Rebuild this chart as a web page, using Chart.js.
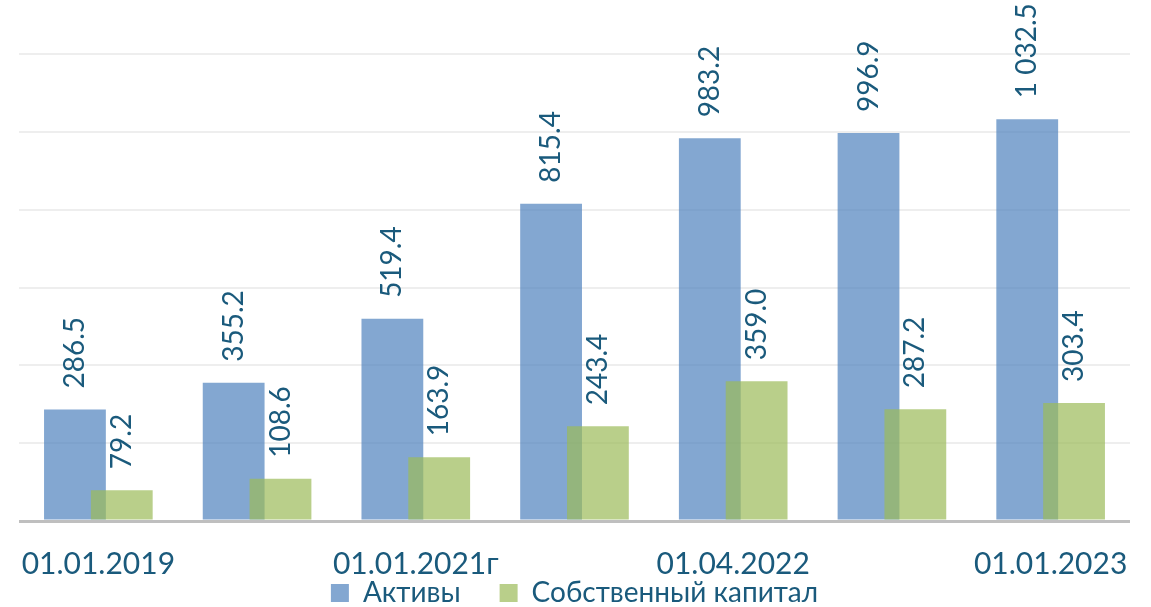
<!DOCTYPE html>
<html>
<head>
<meta charset="utf-8">
<script src="https://cdn.jsdelivr.net/npm/chart.js@4/dist/chart.umd.min.js"></script>
<style>
  html, body { margin: 0; padding: 0; background: #fff; }
  #wrap { width: 1151px; height: 607px; position: relative; }
</style>
</head>
<body>
<div id="wrap"><canvas id="chart"></canvas></div>
<script>
const categories = ["01.01.2019", "01.01.2020", "01.01.2021г", "01.01.2022", "01.04.2022", "01.07.2022", "01.01.2023"];
const assets = [286.5, 355.2, 519.4, 815.4, 983.2, 996.9, 1032.5];
const equity = [79.2, 108.6, 163.9, 243.4, 359.0, 287.2, 303.4];
const seriesNames = ["Активы", "Собственный капитал"];

const TEXT = "#1a5a7c";
const FONT = "Lato, 'Open Sans', sans-serif";

// 1 032.5 style
const fmt = (v) => {
  const [i, d] = v.toFixed(1).split(".");
  return i.replace(/\B(?=(\d{3})+(?!\d))/g, " ") + "." + d;
};

// chart.js paints dataset 0 last; we want the green bars on top of the blue ones
const paintOrder = {
  id: "paintOrder",
  beforeDatasetsDraw(chart) {
    const meta = chart.getDatasetMeta(0);
    if (meta && !meta.hidden) meta.controller.draw();
  },
  beforeDatasetDraw(chart, args) {
    if (args.index === 0) return false;
  }
};

// vertical value labels above each bar
const valueLabels = {
  id: "valueLabels",
  afterDatasetsDraw(chart) {
    const { ctx } = chart;
    ctx.save();
    ctx.fillStyle = TEXT;
    ctx.font = "28px " + FONT;
    ctx.textAlign = "left";
    ctx.textBaseline = "middle";
    chart.data.datasets.forEach((ds, i) => {
      const meta = chart.getDatasetMeta(i);
      meta.data.forEach((bar, k) => {
        ctx.save();
        ctx.translate(bar.x, bar.y - 21);
        ctx.rotate(-Math.PI / 2);
        ctx.fillText(fmt(ds.data[k]), 0, 0);
        ctx.restore();
      });
    });
    ctx.restore();
  }
};

new Chart(document.getElementById("chart"), {
  type: "bar",
  data: {
    labels: categories,
    datasets: [
      { label: seriesNames[0], data: assets, backgroundColor: "rgba(79,129,189,0.7)",
        borderWidth: 0, barPercentage: 1.32, categoryPercentage: 0.59 },
      { label: seriesNames[1], data: equity, backgroundColor: "rgba(155,187,89,0.7)",
        borderWidth: 0, barPercentage: 1.32, categoryPercentage: 0.59 }
    ]
  },
  options: {
    responsive: true,
    maintainAspectRatio: false,
    animation: false,
    layout: { padding: { top: 54, left: 19, right: 21, bottom: -10 } },
    plugins: {
      legend: {
        position: "bottom",
        labels: {
          color: TEXT,
          font: { family: FONT, size: 28, lineHeight: 1 },
          boxWidth: 18, boxHeight: 18, padding: 4,
          // wider gap between the two entries
          generateLabels(chart) {
            const items = Chart.defaults.plugins.legend.labels.generateLabels(chart);
            items.forEach((it, i) => { if (i < items.length - 1) it.text += "\u2003\u2002"; });
            return items;
          }
        }
      },
      tooltip: { enabled: false }
    },
    scales: {
      x: {
        grid: { display: false },
        border: { display: false },
        ticks: {
          autoSkip: false, maxRotation: 0, padding: 20,
          color: TEXT, font: { family: FONT, size: 30, lineHeight: 1 },
          callback: (v, i) => (i % 2 === 0 ? categories[i] : "")
        },
        afterFit: (s) => { s.height = 54; }
      },
      y: {
        min: 0, max: 1200,
        ticks: { display: false, stepSize: 200 },
        border: { display: false },
        grid: {
          drawTicks: false,
          color: (c) => (c.tick && c.tick.value === 0 ? "#bfbfbf" : "#eeeeee"),
          lineWidth: (c) => (c.tick && c.tick.value === 0 ? 3 : 2)
        },
        afterFit: (s) => { s.width = 0; }
      }
    }
  },
  plugins: [paintOrder, valueLabels]
});
</script>
</body>
</html>
